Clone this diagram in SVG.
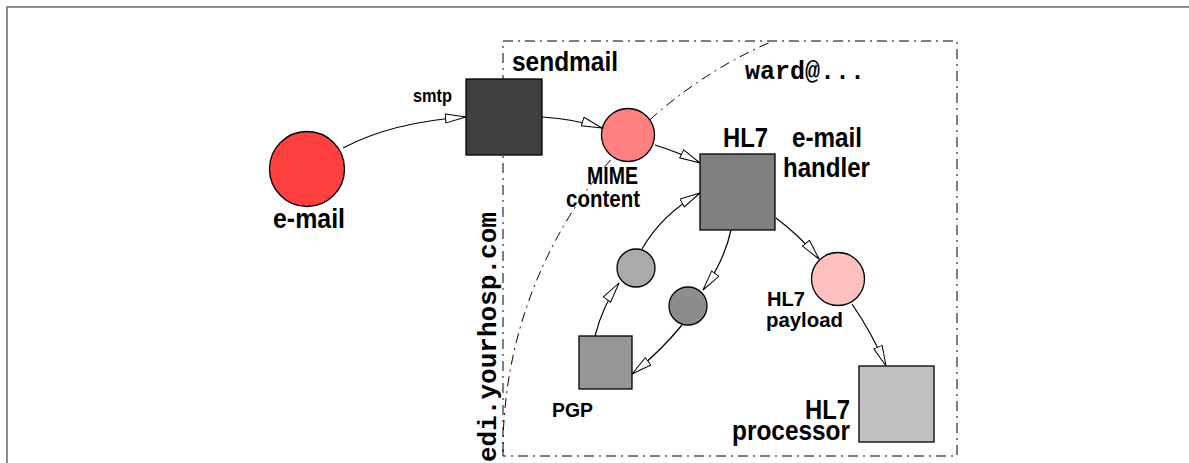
<svg xmlns="http://www.w3.org/2000/svg" width="1189" height="463" viewBox="0 0 1189 463">
<defs>
<style>
.lbl{font-family:"Liberation Sans",Arial,sans-serif;font-weight:bold;fill:#000}
.big{font-size:28px}
.mid{font-size:23px}
.sm2{font-size:21px}
.sm{font-size:18px}
.mono{font-family:"Liberation Mono","Courier New",monospace;font-weight:bold;fill:#000}
.node{stroke:#000;stroke-width:1.3}
.edge{fill:none;stroke:#000;stroke-width:1.2;marker-end:url(#arr)}
.dd{fill:none;stroke:#000;stroke-width:1;stroke-dasharray:10 5 2 5}
</style>
<marker id="arr" markerUnits="userSpaceOnUse" markerWidth="24" markerHeight="12" refX="21" refY="5" orient="auto">
<path d="M0.5,0.5 L21,5 L0.5,9.5 Z" fill="#fff" stroke="#000" stroke-width="1"/>
</marker>
</defs>
<rect x="7" y="7" width="1200" height="500" fill="#fff" stroke="#707070" stroke-width="1.6"/>
<g id="boundary">
<rect class="dd" x="503" y="41" width="454" height="415"/>
<path class="dd" d="M503,452 A445,445 0 0 1 773,41"/>
<text class="mono" font-size="25" x="745" y="79" textLength="120" lengthAdjust="spacingAndGlyphs">ward@...</text>
<text class="mono" font-size="26" transform="translate(496,462) rotate(-90)" textLength="250" lengthAdjust="spacingAndGlyphs">edi.yourhosp.com</text>
</g>
<g id="connectors">
<path class="edge" d="M343,148 Q392,122 466,117"/>
<path class="edge" d="M542,117 Q575,119 602,128"/>
<path class="edge" d="M655,145 Q678,152 700,163"/>
<path class="edge" d="M731,230 Q724,262 703,290"/>
<path class="edge" d="M682,325 Q660,352 632,374"/>
<path class="edge" d="M595,336 Q603,305 619,283"/>
<path class="edge" d="M642,249 Q662,214 700,193"/>
<path class="edge" d="M776,218 Q800,236 819,259"/>
<path class="edge" d="M852,304 Q872,333 886,366"/>
<text class="lbl sm" x="413" y="102" textLength="39" lengthAdjust="spacingAndGlyphs">smtp</text>
</g>
<g id="email">
<circle class="node" cx="307" cy="169" r="37.5" fill="#ff4040"/>
<text class="lbl big" x="273" y="228" textLength="72" lengthAdjust="spacingAndGlyphs">e-mail</text>
</g>
<g id="sendmail">
<rect class="node" x="466" y="79" width="76" height="76" fill="#404040"/>
<text class="lbl big" x="512" y="71" textLength="106" lengthAdjust="spacingAndGlyphs">sendmail</text>
</g>
<g id="mime">
<circle class="node" cx="628" cy="135" r="26.5" fill="#ff8080"/>
<text class="lbl mid" x="587" y="184" textLength="51" lengthAdjust="spacingAndGlyphs">MIME</text>
<text class="lbl mid" x="566" y="207" textLength="74" lengthAdjust="spacingAndGlyphs">content</text>
</g>
<g id="handler">
<rect class="node" x="700" y="154" width="75" height="76" fill="#808080"/>
<text class="lbl big" x="723" y="147" textLength="45" lengthAdjust="spacingAndGlyphs">HL7</text>
<text class="lbl big" x="792" y="147" textLength="70" lengthAdjust="spacingAndGlyphs">e-mail</text>
<text class="lbl big" x="783" y="177" textLength="87" lengthAdjust="spacingAndGlyphs">handler</text>
</g>
<g id="light-circle">
<circle class="node" cx="636" cy="268" r="19" fill="#aaaaaa"/>
</g>
<g id="dark-circle">
<circle class="node" cx="688" cy="306" r="19" fill="#8c8c8c"/>
</g>
<g id="pgp">
<rect class="node" x="579" y="336" width="53" height="53" fill="#969696"/>
<text class="lbl sm2" x="552" y="417" textLength="41" lengthAdjust="spacingAndGlyphs">PGP</text>
</g>
<g id="payload">
<circle class="node" cx="838" cy="279" r="26.5" fill="#ffc0c0"/>
<text class="lbl sm2" x="767" y="306" textLength="38" lengthAdjust="spacingAndGlyphs">HL7</text>
<text class="lbl sm2" x="766" y="327" textLength="77" lengthAdjust="spacingAndGlyphs">payload</text>
</g>
<g id="processor">
<rect class="node" x="859" y="366" width="75" height="76" fill="#c0c0c0"/>
<text class="lbl big" x="805" y="419" textLength="45" lengthAdjust="spacingAndGlyphs">HL7</text>
<text class="lbl big" x="732" y="440" textLength="118" lengthAdjust="spacingAndGlyphs">processor</text>
</g>
</svg>
